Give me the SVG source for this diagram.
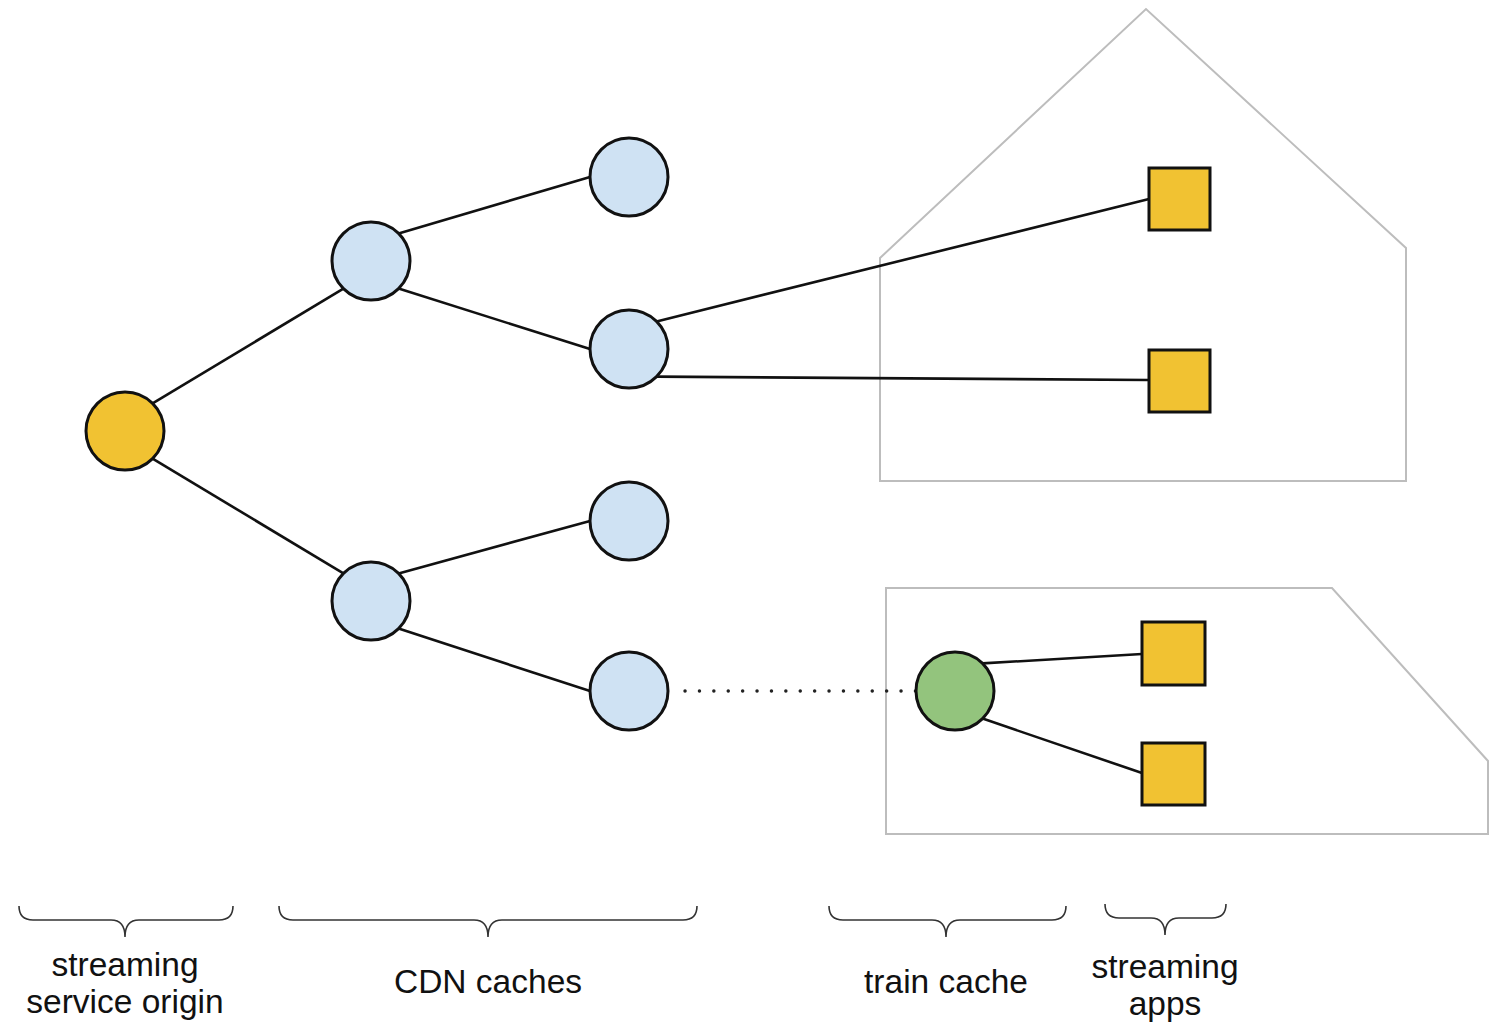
<svg xmlns="http://www.w3.org/2000/svg" width="1496" height="1022" viewBox="0 0 1496 1022">
<style>
.area{fill:none;stroke:#bdbdbd;stroke-width:2}
.edge{fill:none;stroke:#111;stroke-width:2.6}
.dot{fill:none;stroke:#222;stroke-width:3.4;stroke-dasharray:0.1 14.3;stroke-linecap:round}
.node{stroke:#111;stroke-width:3}
.orig{fill:#f1c232}
.cdn{fill:#cfe2f3}
.train{fill:#93c47d}
.app{fill:#f1c232;stroke:#111;stroke-width:3}
.brace{fill:none;stroke:#333;stroke-width:1.6}
.lbl{font-family:"Liberation Sans",Arial,sans-serif;font-size:33.5px;fill:#111;text-anchor:middle}
</style>
<rect width="1496" height="1022" fill="#fff"/>
<g id="house">
<polygon class="area" points="880,258 1146,9 1406,248 1406,481 880,481"/>
</g>
<g id="train-car">
<polygon class="area" points="886,588 1332,588 1488,761 1488,834 886,834"/>
</g>
<g id="connectors">
<line class="edge" x1="152.6" y1="403.4" x2="343.4" y2="288.6"/>
<line class="edge" x1="152.6" y1="458.6" x2="343.4" y2="573.4"/>
<line class="edge" x1="398.6" y1="233.4" x2="590" y2="177"/>
<line class="edge" x1="398.6" y1="288.6" x2="590" y2="349"/>
<line class="edge" x1="398.6" y1="573.4" x2="590" y2="521"/>
<line class="edge" x1="398.6" y1="628.6" x2="590" y2="691"/>
<line class="edge" x1="656.6" y1="321.4" x2="1149" y2="199"/>
<line class="edge" x1="656.6" y1="376.6" x2="1149" y2="380"/>
<line class="dot" x1="685" y1="691" x2="916" y2="691"/>
<line class="edge" x1="982.6" y1="663.4" x2="1142" y2="654"/>
<line class="edge" x1="982.6" y1="718.6" x2="1142" y2="773"/>
</g>
<g id="origin"><circle class="node orig" cx="125" cy="431" r="39"/></g>
<g id="cdn-1"><circle class="node cdn" cx="371" cy="261" r="39"/></g>
<g id="cdn-2"><circle class="node cdn" cx="371" cy="601" r="39"/></g>
<g id="cdn-3"><circle class="node cdn" cx="629" cy="177" r="39"/></g>
<g id="cdn-4"><circle class="node cdn" cx="629" cy="349" r="39"/></g>
<g id="cdn-5"><circle class="node cdn" cx="629" cy="521" r="39"/></g>
<g id="cdn-6"><circle class="node cdn" cx="629" cy="691" r="39"/></g>
<g id="train-cache"><circle class="node train" cx="955" cy="691" r="39"/></g>
<g id="app-1"><rect class="app" x="1149" y="168" width="61" height="62"/></g>
<g id="app-2"><rect class="app" x="1149" y="350" width="61" height="62"/></g>
<g id="app-3"><rect class="app" x="1142" y="622" width="63" height="63"/></g>
<g id="app-4"><rect class="app" x="1142" y="743" width="63" height="62"/></g>
<g id="labels">
<path class="brace" d="M19,906 Q19,920 33,920 L111,920 Q125,920 125,937 Q125,920 139,920 L219,920 Q233,920 233,906"/>
<path class="brace" d="M279,906 Q279,920 293,920 L474,920 Q488,920 488,937 Q488,920 502,920 L683,920 Q697,920 697,906"/>
<path class="brace" d="M829,906 Q829,920 843,920 L932,920 Q946,920 946,937 Q946,920 960,920 L1052,920 Q1066,920 1066,906"/>
<path class="brace" d="M1105,904 Q1105,918 1119,918 L1151,918 Q1165,918 1165,935 Q1165,918 1179,918 L1212,918 Q1226,918 1226,904"/>
<text class="lbl" x="125" y="976">streaming</text>
<text class="lbl" x="125" y="1013">service origin</text>
<text class="lbl" x="488" y="993">CDN caches</text>
<text class="lbl" x="946" y="993">train cache</text>
<text class="lbl" x="1165" y="978">streaming</text>
<text class="lbl" x="1165" y="1015">apps</text>
</g>
</svg>
